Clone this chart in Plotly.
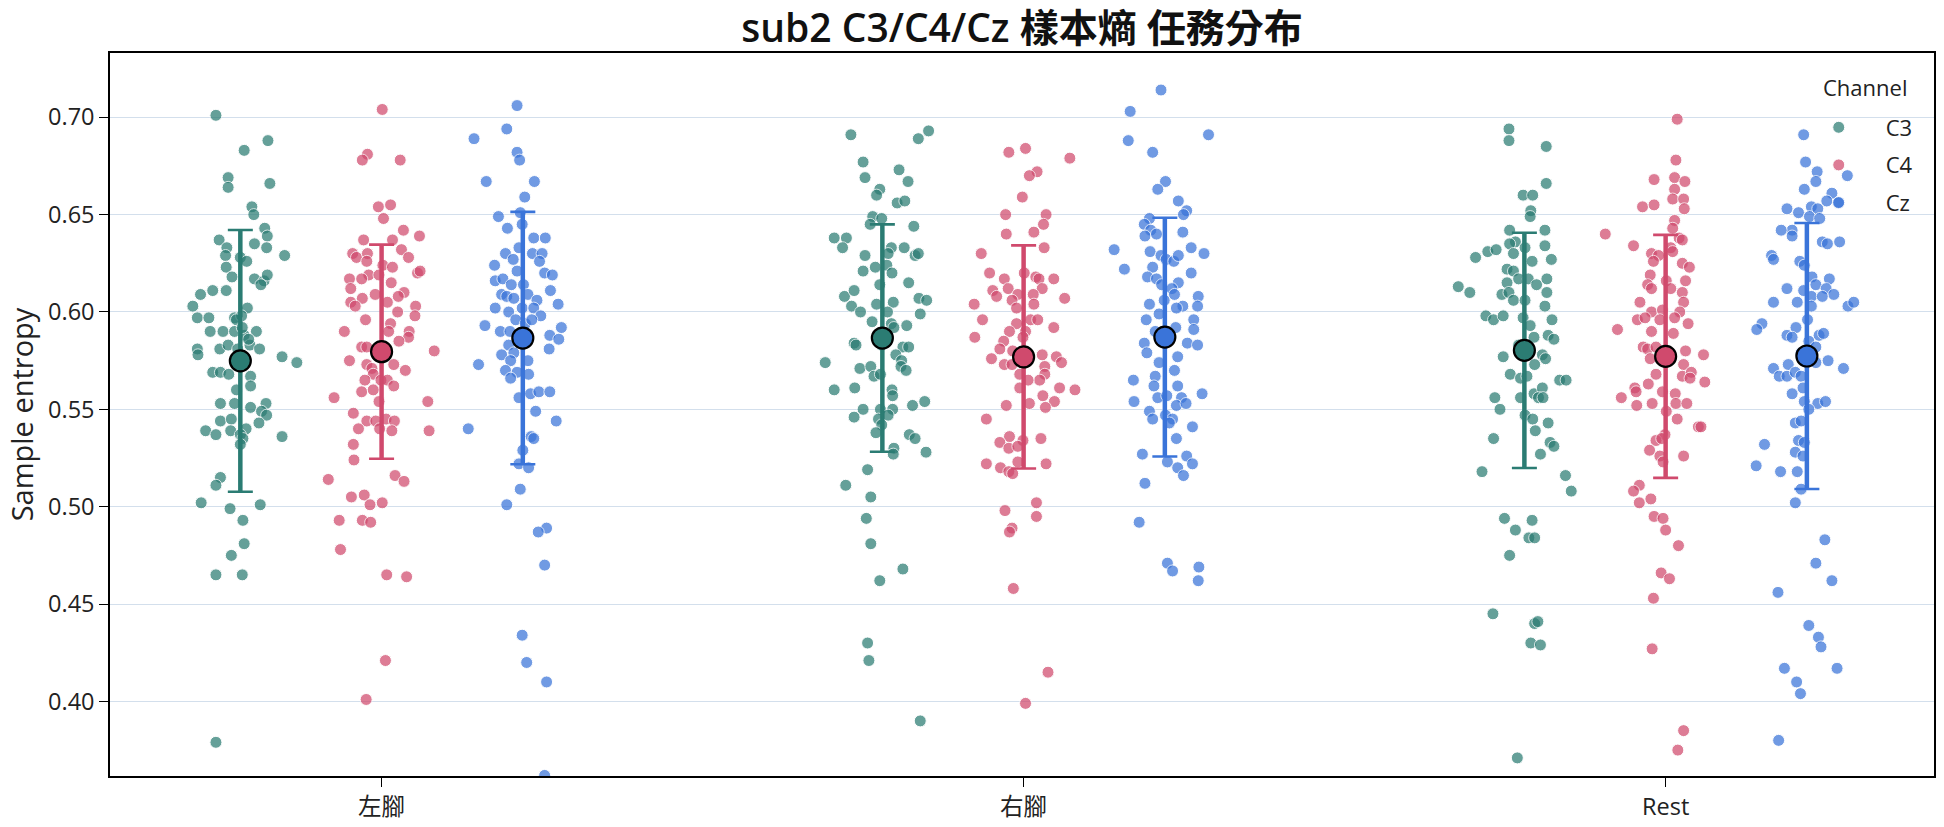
import sys
import plotly.graph_objects as go

# ---------------- data ----------------
categories = ["左腳", "右腳", "Rest"]
channels = ["C3", "C4", "Cz"]
ytick_vals = [0.40, 0.45, 0.50, 0.55, 0.60, 0.65, 0.70]

C3_mean = [0.5749, 0.5866, 0.5803]
C3_sd = [0.0672, 0.0584, 0.0604]
C4_mean = [0.5796, 0.5769, 0.5772]
C4_sd = [0.0550, 0.0573, 0.0624]
Cz_mean = [0.5866, 0.5871, 0.5774]
Cz_sd = [0.0648, 0.0613, 0.0683]

left_C3_val = [0.701, 0.688, 0.683, 0.669, 0.664, 0.666, 0.654, 0.650, 0.643, 0.639,
               0.637, 0.633, 0.635, 0.633, 0.629, 0.629, 0.628, 0.626, 0.623, 0.618,
               0.617, 0.616, 0.619, 0.614, 0.609, 0.611, 0.611, 0.603, 0.602, 0.597,
               0.597, 0.597, 0.598, 0.590, 0.590, 0.590, 0.590, 0.588, 0.581, 0.578,
               0.581, 0.583, 0.583, 0.581, 0.577, 0.574, 0.569, 0.569, 0.568, 0.567,
               0.562, 0.560, 0.553, 0.553, 0.551, 0.553, 0.549, 0.547, 0.544, 0.545,
               0.543, 0.539, 0.539, 0.540, 0.537, 0.537, 0.535, 0.536, 0.532, 0.515,
               0.511, 0.502, 0.499, 0.501, 0.493, 0.481, 0.475, 0.465, 0.465, 0.379,
               0.596, 0.592, 0.586, 0.581]
left_C3_jit = [-0.038, 0.043, 0.006, -0.019, -0.019, 0.046, 0.018, 0.021, 0.038, 0.042,
               -0.033, -0.021, 0.022, 0.041, 0.069, -0.023, 0.000, 0.010, -0.022, -0.013,
               0.022, 0.037, 0.042, 0.032, -0.062, -0.043, -0.022, -0.074, 0.011, -0.067,
               -0.049, -0.009, 0.002, -0.047, -0.027, -0.009, 0.025, 0.006, -0.067, -0.066,
               -0.032, -0.019, 0.015, 0.030, 0.065, 0.088, -0.043, -0.031, -0.018, 0.016,
               0.016, -0.006, -0.031, -0.009, 0.016, 0.040, 0.033, 0.041, -0.031, -0.014,
               0.029, -0.054, -0.015, 0.009, -0.038, 0.000, 0.004, 0.065, 0.000, -0.031,
               -0.038, -0.061, -0.016, 0.031, 0.004, 0.006, -0.014, -0.038, 0.003, -0.038,
               -0.006, 0.003, 0.013, -0.004]

left_C4_val = [0.704, 0.681, 0.678, 0.678, 0.654, 0.655, 0.648, 0.642, 0.639, 0.637,
               0.637, 0.630, 0.628, 0.630, 0.632, 0.628, 0.626, 0.624, 0.623, 0.620,
               0.621, 0.619, 0.619, 0.617, 0.617, 0.615, 0.612, 0.609, 0.610, 0.608,
               0.607, 0.605, 0.603, 0.605, 0.603, 0.600, 0.598, 0.596, 0.594, 0.590,
               0.590, 0.590, 0.587, 0.585, 0.582, 0.582, 0.580, 0.575, 0.573, 0.573,
               0.571, 0.568, 0.570, 0.565, 0.565, 0.565, 0.562, 0.559, 0.560, 0.554,
               0.556, 0.554, 0.548, 0.544, 0.544, 0.545, 0.544, 0.540, 0.540, 0.539,
               0.539, 0.532, 0.524, 0.514, 0.516, 0.513, 0.505, 0.506, 0.502, 0.501,
               0.493, 0.493, 0.492, 0.478, 0.465, 0.464, 0.421, 0.401]
left_C4_jit = [0.001, -0.022, -0.030, 0.029, -0.005, 0.014, 0.003, 0.034, 0.059, -0.028,
               0.017, -0.045, -0.039, -0.022, 0.031, 0.042, -0.023, 0.002, 0.017, 0.056,
               0.060, -0.020, -0.004, -0.050, -0.031, 0.015, -0.048, -0.010, 0.035, 0.026,
               -0.030, -0.048, -0.041, 0.009, 0.053, 0.025, 0.052, -0.025, 0.014, -0.058,
               0.043, 0.011, 0.042, 0.027, -0.031, -0.023, 0.082, -0.050, -0.023, 0.019,
               -0.015, -0.013, 0.037, -0.026, -0.001, 0.009, 0.019, -0.031, -0.013, -0.004,
               -0.074, 0.072, -0.044, -0.023, -0.009, 0.007, 0.020, -0.036, -0.003, 0.016,
               0.074, -0.044, -0.043, -0.083, 0.021, 0.035, -0.047, -0.027, 0.001, -0.018,
               -0.066, -0.030, -0.017, -0.064, 0.008, 0.039, 0.006, -0.024]

left_Cz_val = [0.706, 0.694, 0.689, 0.682, 0.678, 0.667, 0.667, 0.659, 0.649, 0.651,
               0.645, 0.643, 0.638, 0.638, 0.633, 0.630, 0.630, 0.630, 0.627, 0.624,
               0.626, 0.621, 0.620, 0.619, 0.616, 0.617, 0.614, 0.614, 0.609, 0.608,
               0.607, 0.609, 0.606, 0.611, 0.604, 0.602, 0.600, 0.602, 0.602, 0.598,
               0.596, 0.594, 0.596, 0.593, 0.592, 0.590, 0.590, 0.588, 0.586, 0.583,
               0.581, 0.578, 0.579, 0.575, 0.573, 0.575, 0.570, 0.569, 0.568, 0.566,
               0.556, 0.558, 0.559, 0.559, 0.549, 0.544, 0.540, 0.536, 0.535, 0.529,
               0.522, 0.520, 0.509, 0.501, 0.489, 0.487, 0.470, 0.434, 0.420, 0.410,
               0.362]
left_Cz_jit = [-0.009, -0.025, -0.076, -0.009, -0.005, -0.057, 0.018, 0.003, -0.038, -0.004,
               -0.001, -0.024, 0.017, 0.035, -0.006, -0.027, 0.015, 0.030, -0.015, -0.044,
               0.026, -0.009, 0.034, 0.046, -0.043, -0.031, -0.018, 0.001, -0.033, -0.025,
               -0.014, 0.008, 0.022, 0.043, 0.055, -0.043, -0.022, -0.001, 0.017, 0.028,
               -0.011, 0.004, 0.014, -0.059, 0.060, -0.035, -0.020, 0.042, 0.056, -0.022,
               0.041, -0.033, -0.014, 0.008, -0.069, -0.019, -0.027, -0.009, 0.009, -0.019,
               -0.006, 0.012, 0.025, 0.042, 0.020, 0.052, -0.085, 0.013, 0.017, 0.000,
               -0.006, 0.009, -0.004, -0.025, 0.037, 0.024, 0.034, -0.001, 0.006, 0.037,
               0.034]

right_C3_val = [0.691, 0.693, 0.689, 0.677, 0.669, 0.673, 0.667, 0.663, 0.660, 0.656,
                0.657, 0.649, 0.648, 0.645, 0.644, 0.638, 0.638, 0.633, 0.633, 0.630,
                0.633, 0.629, 0.629, 0.630, 0.623, 0.624, 0.621, 0.620, 0.614, 0.615,
                0.608, 0.611, 0.603, 0.604, 0.605, 0.607, 0.606, 0.600, 0.600, 0.599,
                0.595, 0.594, 0.592, 0.593, 0.584, 0.583, 0.583, 0.582, 0.582, 0.574,
                0.578, 0.575, 0.571, 0.572, 0.572, 0.570, 0.567, 0.568, 0.560, 0.561,
                0.560, 0.557, 0.550, 0.550, 0.550, 0.552, 0.554, 0.546, 0.545, 0.547,
                0.542, 0.538, 0.537, 0.535, 0.530, 0.527, 0.528, 0.519, 0.511, 0.505,
                0.494, 0.481, 0.468, 0.462, 0.430, 0.421, 0.390]
right_C3_jit = [-0.049, 0.072, 0.056, -0.030, -0.027, 0.026, 0.040, -0.004, -0.009, 0.023,
                0.035, -0.015, -0.001, -0.019, 0.049, -0.075, -0.056, -0.062, 0.014, 0.009,
                0.034, -0.027, 0.051, 0.056, -0.011, 0.007, -0.030, 0.015, -0.004, 0.041,
                -0.059, -0.044, -0.048, -0.009, 0.017, 0.057, 0.069, -0.034, 0.008, 0.059,
                -0.016, 0.014, 0.018, 0.038, -0.044, -0.041, -0.001, 0.032, 0.041, -0.089,
                0.021, 0.030, -0.035, -0.018, 0.029, 0.037, -0.013, -0.003, -0.075, -0.043,
                0.015, 0.016, -0.030, -0.003, 0.016, 0.047, 0.066, -0.044, -0.006, 0.009,
                -0.001, -0.010, 0.042, 0.051, 0.018, 0.017, 0.068, -0.023, -0.057, -0.018,
                -0.025, -0.018, 0.032, -0.004, -0.023, -0.021, 0.059]

right_C4_val = [0.684, 0.682, 0.679, 0.672, 0.670, 0.659, 0.650, 0.650, 0.645, 0.640,
                0.641, 0.633, 0.630, 0.620, 0.617, 0.620, 0.618, 0.617, 0.617, 0.611,
                0.612, 0.612, 0.608, 0.609, 0.609, 0.607, 0.604, 0.606, 0.604, 0.602,
                0.596, 0.596, 0.596, 0.592, 0.594, 0.590, 0.590, 0.587, 0.587, 0.585,
                0.581, 0.580, 0.576, 0.573, 0.573, 0.578, 0.577, 0.574, 0.572, 0.568,
                0.568, 0.565, 0.561, 0.565, 0.561, 0.560, 0.557, 0.554, 0.552, 0.553,
                0.551, 0.545, 0.536, 0.533, 0.534, 0.535, 0.530, 0.531, 0.522, 0.520,
                0.518, 0.517, 0.523, 0.522, 0.502, 0.495, 0.498, 0.489, 0.487, 0.458,
                0.415, 0.399]
right_C4_jit = [0.003, -0.023, 0.072, 0.021, 0.009, -0.002, -0.028, 0.035, 0.031, -0.027,
                0.016, 0.032, -0.066, -0.053, -0.030, 0.001, 0.019, 0.024, 0.047, -0.048,
                -0.024, 0.029, -0.042, -0.009, 0.015, 0.064, -0.077, -0.018, 0.016, -0.011,
                -0.064, 0.011, 0.022, 0.047, -0.011, -0.022, 0.003, -0.076, -0.001, -0.031,
                -0.037, -0.017, -0.050, -0.030, -0.018, 0.029, 0.051, 0.059, 0.033, 0.033,
                -0.006, 0.025, -0.006, 0.007, 0.056, 0.080, 0.030, 0.048, -0.027, 0.009,
                0.034, -0.058, -0.022, -0.037, -0.001, 0.027, -0.023, -0.009, -0.058, -0.036,
                -0.023, -0.017, -0.009, 0.035, 0.020, 0.020, -0.029, -0.018, -0.022, -0.016,
                0.038, 0.003]

right_Cz_val = [0.714, 0.703, 0.688, 0.691, 0.682, 0.667, 0.663, 0.657, 0.652, 0.650,
                0.648, 0.645, 0.642, 0.639, 0.640, 0.641, 0.632, 0.633, 0.630, 0.631,
                0.629, 0.627, 0.626, 0.629, 0.623, 0.622, 0.620, 0.618, 0.617, 0.615,
                0.614, 0.612, 0.609, 0.608, 0.606, 0.604, 0.603, 0.603, 0.602, 0.599,
                0.596, 0.596, 0.592, 0.591, 0.590, 0.584, 0.584, 0.583, 0.579, 0.577,
                0.574, 0.570, 0.565, 0.567, 0.562, 0.562, 0.558, 0.556, 0.557, 0.556,
                0.554, 0.552, 0.553, 0.549, 0.545, 0.547, 0.545, 0.543, 0.541, 0.535,
                0.527, 0.523, 0.526, 0.522, 0.520, 0.516, 0.512, 0.492, 0.471, 0.467,
                0.469, 0.462]
right_Cz_jit = [-0.006, -0.054, -0.057, 0.068, -0.019, 0.001, -0.011, 0.021, 0.034, 0.029,
                -0.024, -0.032, -0.022, -0.031, -0.013, 0.028, -0.079, 0.041, 0.061, -0.023,
                -0.006, 0.002, 0.014, 0.021, -0.019, -0.063, 0.041, -0.027, -0.013, 0.021,
                -0.005, 0.011, 0.015, 0.052, -0.001, -0.024, 0.028, 0.051, 0.018, -0.009,
                -0.029, 0.045, 0.017, 0.045, -0.015, -0.032, 0.035, 0.051, -0.028, 0.020,
                -0.009, 0.015, -0.049, -0.015, -0.017, 0.020, 0.058, -0.011, 0.003, 0.026,
                -0.048, 0.018, 0.033, -0.024, -0.019, 0.001, 0.012, 0.007, 0.043, 0.018,
                -0.035, 0.004, 0.034, 0.043, 0.020, 0.029, -0.031, -0.040, 0.004, 0.012,
                0.053, 0.052]

rest_C3_val = [0.694, 0.688, 0.685, 0.666, 0.660, 0.660, 0.652, 0.649, 0.642, 0.642,
               0.636, 0.635, 0.633, 0.634, 0.631, 0.632, 0.630, 0.628, 0.626, 0.627,
               0.622, 0.621, 0.613, 0.610, 0.617, 0.617, 0.614, 0.617, 0.615, 0.609,
               0.610, 0.610, 0.606, 0.606, 0.603, 0.598, 0.596, 0.598, 0.597, 0.596,
               0.593, 0.588, 0.586, 0.587, 0.583, 0.577, 0.578, 0.576, 0.573, 0.568,
               0.566, 0.567, 0.565, 0.565, 0.558, 0.561, 0.556, 0.556, 0.556, 0.556,
               0.550, 0.547, 0.545, 0.543, 0.539, 0.535, 0.533, 0.531, 0.527, 0.518,
               0.516, 0.508, 0.494, 0.493, 0.488, 0.484, 0.484, 0.475, 0.445, 0.440,
               0.441, 0.430, 0.429, 0.371]
rest_C3_jit = [-0.024, -0.024, 0.034, 0.034, -0.002, 0.013, 0.010, 0.009, -0.023, 0.032,
               -0.014, -0.023, 0.001, 0.032, -0.057, -0.044, -0.017, -0.076, 0.012, 0.042,
               -0.027, -0.017, -0.103, -0.085, -0.009, 0.006, 0.019, 0.035, -0.027, -0.035,
               -0.024, 0.035, -0.017, 0.001, 0.032, -0.060, -0.048, -0.033, -0.002, 0.043,
               0.009, 0.037, 0.046, 0.015, -0.009, -0.033, 0.028, 0.033, 0.016, -0.022,
               -0.006, 0.004, 0.055, 0.065, 0.015, 0.028, 0.022, 0.029, -0.046, -0.006,
               -0.038, 0.001, 0.013, 0.037, 0.017, -0.048, 0.040, 0.046, 0.025, -0.066,
               0.064, 0.073, -0.031, 0.012, -0.014, 0.007, 0.016, -0.023, -0.049, 0.016,
               0.021, 0.010, 0.025, -0.011]

rest_C4_val = [0.699, 0.678, 0.668, 0.669, 0.667, 0.663, 0.654, 0.655, 0.658, 0.658,
               0.653, 0.647, 0.643, 0.640, 0.638, 0.637, 0.634, 0.633, 0.630, 0.629,
               0.631, 0.626, 0.625, 0.623, 0.619, 0.616, 0.614, 0.612, 0.616, 0.612,
               0.610, 0.605, 0.605, 0.600, 0.601, 0.600, 0.596, 0.597, 0.596, 0.597,
               0.594, 0.591, 0.590, 0.589, 0.582, 0.581, 0.582, 0.580, 0.576, 0.578,
               0.573, 0.568, 0.567, 0.569, 0.566, 0.564, 0.563, 0.561, 0.559, 0.559,
               0.558, 0.556, 0.552, 0.553, 0.553, 0.553, 0.549, 0.545, 0.541, 0.541,
               0.537, 0.534, 0.535, 0.529, 0.526, 0.526, 0.523, 0.511, 0.508, 0.502,
               0.504, 0.495, 0.494, 0.488, 0.480, 0.466, 0.463, 0.453, 0.427, 0.385,
               0.375]
rest_C4_jit = [0.018, 0.016, -0.018, 0.014, 0.030, 0.014, -0.036, -0.018, 0.011, 0.028,
               0.029, 0.014, 0.011, -0.094, 0.021, 0.026, -0.050, 0.008, -0.022, -0.011,
               0.011, -0.019, 0.026, 0.037, -0.024, 0.031, -0.028, -0.022, 0.001, 0.008,
               0.026, -0.040, 0.028, -0.022, -0.005, 0.022, -0.044, -0.032, -0.009, 0.014,
               0.035, -0.075, -0.022, 0.012, -0.035, -0.028, -0.015, 0.031, -0.024, 0.059,
               0.028, -0.015, 0.026, 0.040, 0.038, 0.061, -0.027, -0.048, -0.046, -0.005,
               0.015, -0.069, -0.045, -0.021, 0.016, 0.033, 0.001, 0.018, 0.051, 0.055,
               -0.001, -0.015, -0.006, -0.025, 0.028, -0.009, -0.004, -0.041, -0.050, -0.041,
               -0.023, -0.018, -0.004, 0.000, 0.020, -0.007, 0.006, -0.019, -0.021, 0.028,
               0.019]

rest_Cz_val = [0.691, 0.677, 0.672, 0.670, 0.667, 0.663, 0.661, 0.657, 0.656, 0.654,
               0.653, 0.653, 0.651, 0.649, 0.648, 0.642, 0.642, 0.639, 0.636, 0.635,
               0.636, 0.629, 0.627, 0.626, 0.624, 0.618, 0.617, 0.612, 0.611, 0.614,
               0.612, 0.609, 0.608, 0.608, 0.605, 0.605, 0.603, 0.605, 0.603, 0.596,
               0.594, 0.591, 0.592, 0.588, 0.587, 0.588, 0.589, 0.585, 0.582, 0.579,
               0.575, 0.574, 0.571, 0.573, 0.571, 0.567, 0.567, 0.569, 0.567, 0.561,
               0.558, 0.554, 0.553, 0.554, 0.550, 0.543, 0.544, 0.532, 0.534, 0.533,
               0.528, 0.526, 0.521, 0.518, 0.518, 0.509, 0.502, 0.483, 0.471, 0.462,
               0.456, 0.439, 0.433, 0.428, 0.417, 0.417, 0.410, 0.404, 0.380]
rest_Cz_jit = [-0.005, -0.002, 0.016, 0.063, 0.014, -0.004, 0.039, 0.031, 0.049, 0.007,
               0.017, -0.031, -0.013, 0.004, 0.020, -0.023, -0.040, -0.023, 0.024, 0.032,
               0.051, -0.055, -0.052, -0.011, -0.004, 0.008, 0.035, -0.031, -0.005, 0.014,
               0.030, 0.042, 0.007, 0.024, -0.052, -0.015, 0.064, 0.073, 0.007, 0.001,
               -0.070, -0.078, -0.017, -0.031, -0.023, 0.019, 0.026, 0.003, 0.014, -0.009,
               0.033, 0.014, -0.052, -0.029, 0.057, -0.043, -0.031, -0.018, -0.009, -0.006,
               -0.023, -0.004, 0.017, 0.029, 0.003, -0.018, -0.009, -0.066, -0.013, -0.004,
               -0.018, -0.006, -0.079, -0.041, -0.015, -0.009, -0.018, 0.028, 0.014, 0.039,
               -0.045, 0.003, 0.018, 0.022, -0.035, 0.047, -0.016, -0.010, -0.044]

# ---------------- assembly ----------------
groups = {
    ("左腳", "C3"): (left_C3_val, left_C3_jit),
    ("左腳", "C4"): (left_C4_val, left_C4_jit),
    ("左腳", "Cz"): (left_Cz_val, left_Cz_jit),
    ("右腳", "C3"): (right_C3_val, right_C3_jit),
    ("右腳", "C4"): (right_C4_val, right_C4_jit),
    ("右腳", "Cz"): (right_Cz_val, right_Cz_jit),
    ("Rest", "C3"): (rest_C3_val, rest_C3_jit),
    ("Rest", "C4"): (rest_C4_val, rest_C4_jit),
    ("Rest", "Cz"): (rest_Cz_val, rest_Cz_jit),
}
means = {"C3": C3_mean, "C4": C4_mean, "Cz": Cz_mean}
sds = {"C3": C3_sd, "C4": C4_sd, "Cz": Cz_sd}

colors = {"C3": "#2b7c73", "C4": "#d04a6d", "Cz": "#3a74d9"}
dodge = {"C3": -0.22, "C4": 0.0, "Cz": 0.22}
FONT = "Open Sans, Noto Sans CJK TC, sans-serif"

fig = go.Figure()

# jittered points
for ch in channels:
    xs, ys = [], []
    for k, cat in enumerate(categories):
        vals, jit = groups[(cat, ch)]
        if len(vals) != len(jit):
            print("length mismatch", cat, ch, len(vals), len(jit), file=sys.stderr)
        n = min(len(vals), len(jit))
        xs += [k + dodge[ch] + j for j in jit[:n]]
        ys += list(vals[:n])
    fig.add_trace(go.Scatter(
        x=xs, y=ys, mode="markers", name=ch, legendgroup=ch,
        marker=dict(size=12, color=colors[ch], opacity=0.72,
                    line=dict(color="white", width=1)),
        showlegend=True,
    ))

# error-bar stems (thicker than caps)
for ch in channels:
    sx, sy = [], []
    for k in range(len(categories)):
        m, s = means[ch][k], sds[ch][k]
        sx += [k + dodge[ch], k + dodge[ch], None]
        sy += [m - s, m + s, None]
    fig.add_trace(go.Scatter(x=sx, y=sy, mode="lines",
                             line=dict(color=colors[ch], width=4.5),
                             showlegend=False, hoverinfo="skip"))

# means with caps
for ch in channels:
    fig.add_trace(go.Scatter(
        x=[k + dodge[ch] for k in range(len(categories))],
        y=means[ch], mode="markers", showlegend=False,
        marker=dict(size=21, color=colors[ch], line=dict(color="black", width=2.2)),
        error_y=dict(type="data", array=sds[ch], visible=True,
                     color=colors[ch], thickness=2.6, width=12.5),
    ))

axis_common = dict(showline=True, linecolor="black", linewidth=1.5, mirror=True,
                   ticks="outside", ticklen=9, tickwidth=1.3, tickcolor="black",
                   zeroline=False, automargin=False,
                   tickfont=dict(family=FONT, size=23.5, color="#222"))

fig.update_layout(
    width=1944, height=827,
    margin=dict(l=110, r=10, t=53, b=51),
    paper_bgcolor="white", plot_bgcolor="white",
    font=dict(family=FONT, color="#222"),
    title=dict(text="sub2 C3/C4/Cz 樣本熵 任務分布", x=0.5, xref="paper",
               y=1 - 28.5 / 827, yref="container", yanchor="middle", xanchor="center",
               font=dict(family=FONT, size=39, color="#111", weight=600),
               automargin=False),
    xaxis=dict(range=[-0.423, 2.418], tickvals=[0, 1, 2], ticktext=categories,
               showgrid=False, **axis_common),
    yaxis=dict(range=[0.3617, 0.733], tickvals=ytick_vals,
               ticktext=[f"{v:.2f}" for v in ytick_vals],
               showgrid=True, gridcolor="#d3dfec", gridwidth=1,
               title=dict(text="Sample entropy", font=dict(family=FONT, size=29, color="#222"),
                          standoff=6),
               **axis_common),
    legend=dict(x=0.922, y=0.926, xanchor="left", yanchor="top",
                bgcolor="rgba(0,0,0,0)", borderwidth=0,
                font=dict(family=FONT, size=22, color="#222"),
                tracegroupgap=6, itemsizing="trace", itemwidth=84),
    annotations=[dict(text="Channel", xref="paper", yref="paper",
                      x=(1909 - 110) / 1824, y=1 - (87 - 53) / 722.5,
                      xanchor="right", yanchor="middle", showarrow=False,
                      font=dict(family=FONT, size=22, color="#222"))],
)

fig.write_html("out.html")
